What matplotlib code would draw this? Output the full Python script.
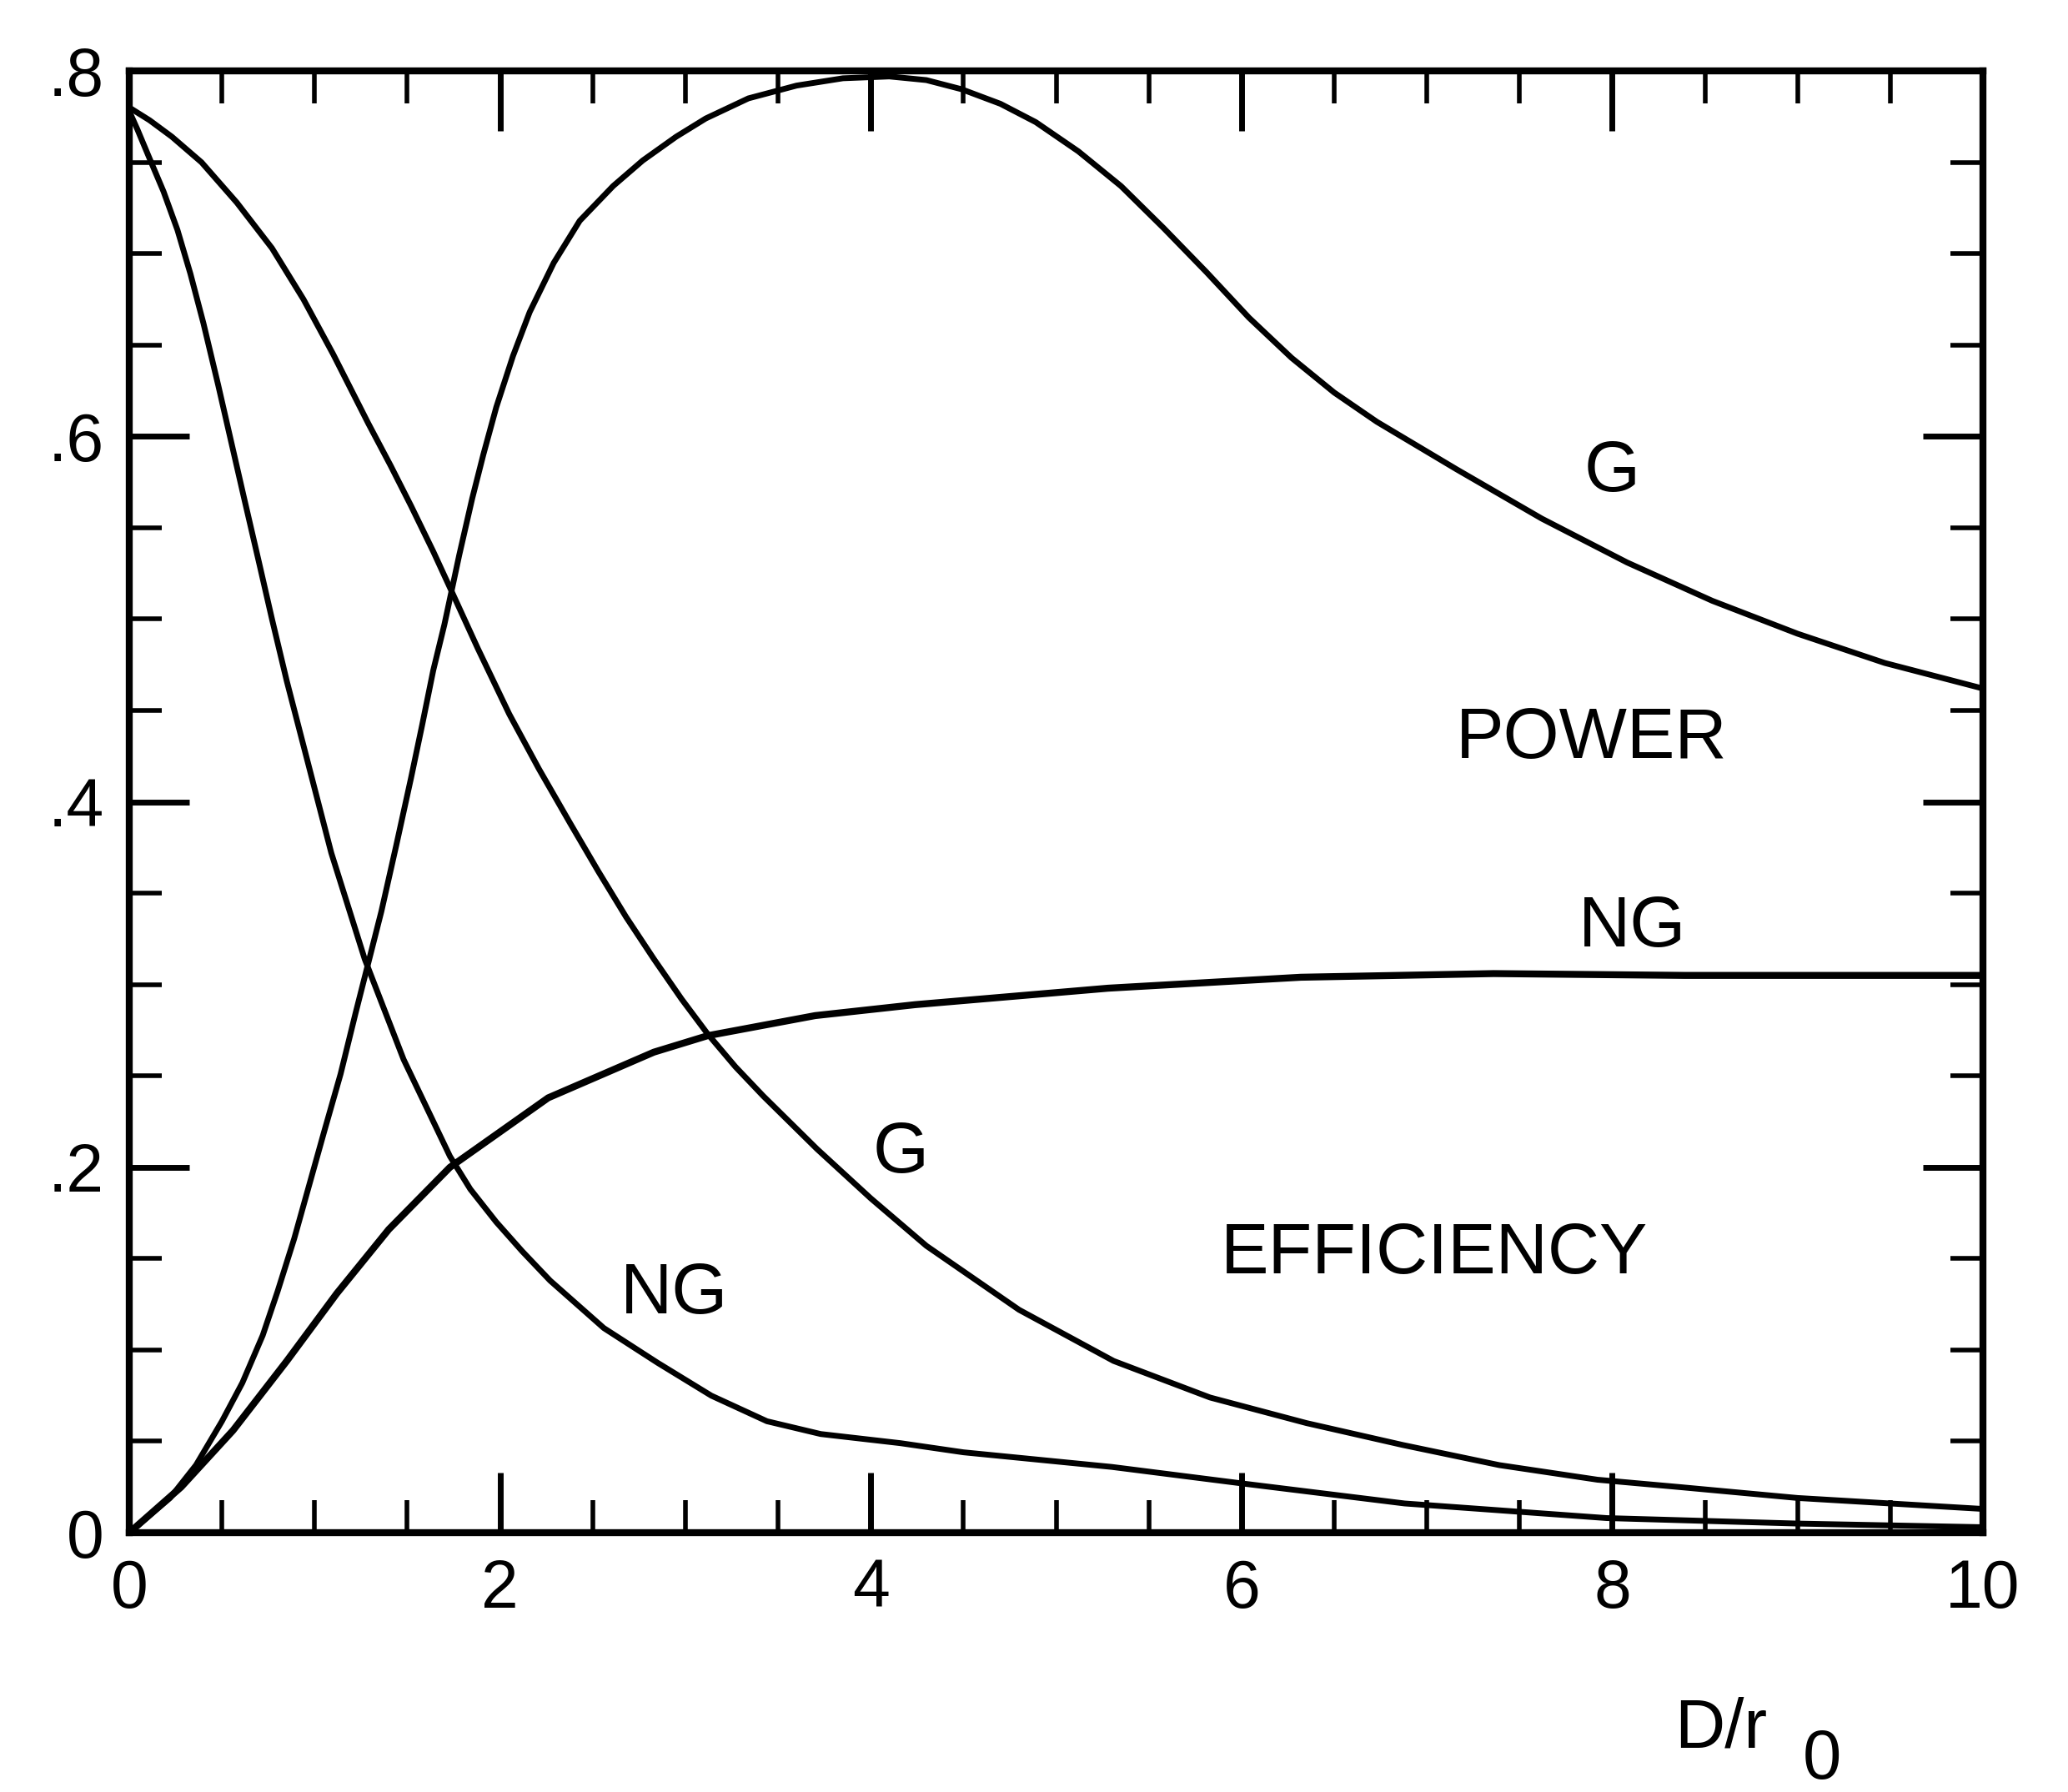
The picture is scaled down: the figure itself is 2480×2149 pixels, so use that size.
import numpy as np
import matplotlib
matplotlib.use("Agg")
import matplotlib.pyplot as plt
from matplotlib.ticker import MultipleLocator, FixedLocator, FixedFormatter

# ---- data (D/r0 vs value) ----
power_g_x = [0.0, 0.07, 0.22, 0.36, 0.50, 0.61, 0.72, 0.80, 0.89, 0.97, 1.05,
             1.14, 1.22, 1.29, 1.36, 1.44, 1.52, 1.58, 1.64, 1.70, 1.74, 1.78,
             1.85, 1.91, 1.98, 2.07, 2.16, 2.29, 2.43, 2.61, 2.77, 2.95, 3.11,
             3.34, 3.6, 3.85, 4.1, 4.3, 4.49, 4.7, 4.89, 5.12, 5.35, 5.58,
             5.81, 6.04, 6.27, 6.5, 6.73, 7.16, 7.62, 8.08, 8.54, 9.0, 9.47,
             10.0]
power_g_y = [0.0, 0.006, 0.019, 0.037, 0.061, 0.082, 0.108, 0.132, 0.161,
             0.19, 0.219, 0.251, 0.284, 0.312, 0.340, 0.376, 0.413, 0.442,
             0.472, 0.497, 0.516, 0.535, 0.566, 0.590, 0.616, 0.644, 0.668,
             0.695, 0.718, 0.737, 0.751, 0.764, 0.774, 0.785, 0.792, 0.796,
             0.797, 0.795, 0.79, 0.782, 0.772, 0.756, 0.737, 0.714, 0.69,
             0.665, 0.643, 0.624, 0.608, 0.582, 0.555, 0.531, 0.51, 0.492,
             0.476, 0.462]

power_ng_x = [0.0, 0.28, 0.56, 0.85, 1.12, 1.4, 1.73, 2.26, 2.83, 3.12, 3.7,
              4.24, 5.28, 6.32, 7.36, 8.39, 9.38, 10.0]
power_ng_y = [0.0, 0.025, 0.056, 0.094, 0.131, 0.166, 0.200, 0.238, 0.263,
              0.272, 0.283, 0.289, 0.298, 0.304, 0.306, 0.305, 0.305, 0.305]

eff_g_x = [0.0, 0.11, 0.23, 0.39, 0.58, 0.77, 0.94, 1.10, 1.29, 1.41, 1.52,
           1.64, 1.74, 1.88, 2.05, 2.21, 2.38, 2.53, 2.68, 2.83, 2.98, 3.12,
           3.27, 3.42, 3.71, 4.0, 4.3, 4.8, 5.31, 5.83, 6.35, 6.87, 7.39,
           7.92, 8.36, 9.0, 10.0]
eff_g_y = [0.78, 0.773, 0.764, 0.75, 0.728, 0.703, 0.675, 0.645, 0.607, 0.584,
           0.562, 0.537, 0.515, 0.484, 0.448, 0.418, 0.388, 0.362, 0.337,
           0.314, 0.292, 0.273, 0.255, 0.239, 0.210, 0.183, 0.157, 0.122,
           0.094, 0.074, 0.06, 0.048, 0.037, 0.029, 0.025, 0.019, 0.013]

eff_ng_x = [0.0, 0.044, 0.11, 0.185, 0.26, 0.33, 0.40, 0.48, 0.55, 0.62, 0.70,
            0.77, 0.85, 1.09, 1.27, 1.48, 1.73, 1.84, 1.98, 2.12, 2.27, 2.56,
            2.85, 3.14, 3.44, 3.73, 4.16, 4.5, 5.3, 6.0, 6.88, 7.97, 9.0, 10.0]
eff_ng_y = [0.778, 0.768, 0.752, 0.734, 0.713, 0.689, 0.662, 0.628, 0.597,
            0.566, 0.531, 0.500, 0.466, 0.372, 0.314, 0.259, 0.206, 0.188,
            0.170, 0.154, 0.138, 0.112, 0.093, 0.075, 0.061, 0.054, 0.049,
            0.044, 0.036, 0.027, 0.016, 0.008, 0.005, 0.003]

x_ticks = [0, 2, 4, 6, 8, 10]
x_tick_labels = ["0", "2", "4", "6", "8", "10"]
y_ticks = [0.0, 0.2, 0.4, 0.6, 0.8]
y_tick_labels = ["0", ".2", ".4", ".6", ".8"]

labels = [("G", 8.0, 0.58), ("POWER", 7.89, 0.434), ("NG", 8.11, 0.331),
          ("G", 4.16, 0.207), ("NG", 2.94, 0.13), ("EFFICIENCY", 7.04, 0.152)]

plt.rcParams["font.family"] = ["Liberation Sans", "DejaVu Sans"]

fig = plt.figure(figsize=(24.8, 21.49), dpi=100)
ax = fig.add_axes([0.0625, 0.1447, 0.8964, 0.8157])

lw = 5
for xs, ys, w in [(power_g_x, power_g_y, lw), (power_ng_x, power_ng_y, 6),
                  (eff_g_x, eff_g_y, lw), (eff_ng_x, eff_ng_y, lw)]:
    ax.plot(xs, ys, color="black", lw=w, solid_joinstyle="round",
            solid_capstyle="round")

ax.set_xlim(0, 10)
ax.set_ylim(0, 0.8)

ax.xaxis.set_major_locator(FixedLocator(x_ticks))
ax.xaxis.set_major_formatter(FixedFormatter(x_tick_labels))
ax.xaxis.set_minor_locator(MultipleLocator(0.5))
ax.yaxis.set_major_locator(FixedLocator(y_ticks))
ax.yaxis.set_major_formatter(FixedFormatter(y_tick_labels))
ax.yaxis.set_minor_locator(MultipleLocator(0.05))

ax.tick_params(which="both", direction="in", top=True, right=True,
               color="black", labelsize=58)
ax.tick_params(which="major", length=52, width=5)
ax.tick_params(which="minor", length=28, width=4)
ax.tick_params(axis="x", which="major", pad=22)
ax.tick_params(axis="y", which="major", pad=22)

for s in ax.spines.values():
    s.set_linewidth(6)
    s.set_color("black")

for txt, lx, ly in labels:
    ax.text(lx, ly, txt, fontsize=62, ha="center", va="center")

# axis title D/r0 with a full-size, lowered "0"
fig.text(0.8097, 0.0247, "D/r", fontsize=60, ha="left", va="baseline")
fig.text(0.8715, 0.0075, "0", fontsize=60, ha="left", va="baseline")

fig.savefig("out.png", dpi=100, facecolor="white")
